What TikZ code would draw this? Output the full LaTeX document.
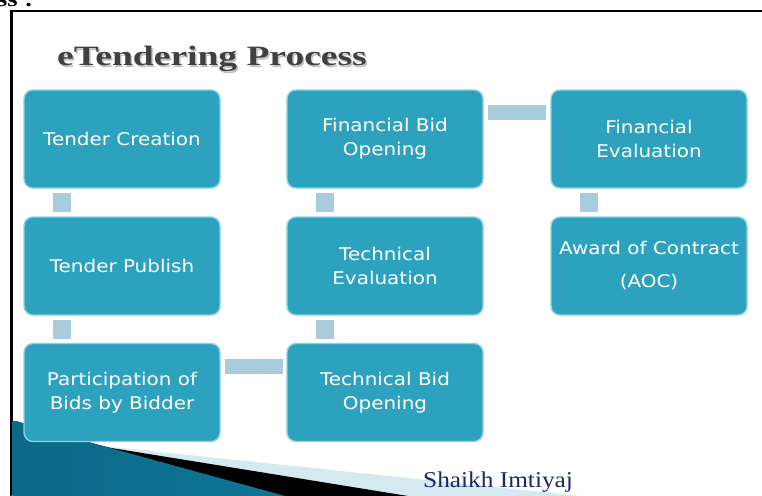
\documentclass[tikz,border=0pt]{standalone}
\usepackage{fontspec}
\newfontfamily\boxfont[FakeStretch=1.14]{DejaVu Sans}
\newfontfamily\titlefont[FakeStretch=1.34]{Liberation Serif}
\newfontfamily\footfont[FakeStretch=1.12]{Liberation Serif}
\newfontfamily\cutfont[FakeStretch=1.2]{Liberation Serif}
\definecolor{boxfill}{HTML}{2DA2BF}
\definecolor{boxedge}{HTML}{8ECFE0}
\definecolor{connfill}{HTML}{A9CCDC}
\definecolor{titlegray}{HTML}{404040}
\definecolor{navy}{HTML}{1B2A66}
\definecolor{tealdark}{HTML}{0A6A87}
\definecolor{teallight}{HTML}{55B6D6}
\definecolor{tealmid}{HTML}{0F7595}
\definecolor{paleblue}{HTML}{D5E9F1}
\tikzset{
  stepbox/.style={rectangle, rounded corners=9pt, fill=boxfill, draw=boxedge,
    line width=1.4pt, minimum width=196pt, minimum height=98pt, inner sep=0pt,
    align=center, text=white, font=\boxfont\fontsize{17.5}{24}\selectfont},
  hconn/.style={draw=connfill, line width=15pt, line cap=butt},
  vconn/.style={draw=connfill, line width=18pt, line cap=butt},
}
\begin{document}
\begin{tikzpicture}[x=1pt,y=-1pt]
\useasboundingbox (0,0) rectangle (762,495);
\fill[white] (0,0) rectangle (762,495);
% cut-off text at the top
\node[anchor=base west, inner sep=0pt, font=\cutfont\bfseries\fontsize{22}{22}\selectfont] (cut) at (-3,7) {ss :};
% frame
\draw[line width=2.5pt] (11.25,500) -- (11.25,11.25) -- (770,11.25);
% bottom-left swoosh
\fill[paleblue] (93,445) -- (580,496) -- (11,496) -- cycle;
\fill[black] (93,445) -- (408,496) -- (250,496) -- cycle;
\fill[left color=tealdark, middle color=teallight, right color=tealmid]
  (12.5,421) .. controls (20,421) and (24,424) .. (30,426) -- (285,496) -- (12.5,496) -- cycle;
% title
\node[anchor=base west, inner sep=0pt, text=black!25, font=\titlefont\bfseries\fontsize{28}{28}\selectfont] (titleshadow) at (58.5,67.5) {eTendering Process};
\node[anchor=base west, inner sep=0pt, text=titlegray, font=\titlefont\bfseries\fontsize{28}{28}\selectfont] (title) at (57,66) {eTendering Process};
% boxes
\node[stepbox] (n1) at (122,139) {Tender Creation};
\node[stepbox] (n2) at (122,266) {Tender Publish};
\node[stepbox] (n3) at (122,392.5) {Participation of\\Bids by Bidder};
\node[stepbox] (n4) at (385,392.5) {Technical Bid\\Opening};
\node[stepbox] (n5) at (385,266) {Technical\\Evaluation};
\node[stepbox] (n6) at (385,139) {Financial Bid\\Opening};
\node[stepbox] (n7) at (649,139) {Financial\\Evaluation};
\node[stepbox] (n8) at (649,266) {Award of Contract\\[9pt](AOC)};
% connectors
\draw[vconn] ([xshift=39pt,yshift=-4pt]n1.south west) -- ([xshift=39pt,yshift=4pt]n2.north west);
\draw[vconn] ([xshift=39pt,yshift=-4pt]n2.south west) -- ([xshift=39pt,yshift=4pt]n3.north west);
\draw[hconn] ([xshift=4pt,yshift=-23.5pt]n3.north east) -- ([xshift=-3pt,yshift=-23.5pt]n4.north west);
\draw[vconn] ([xshift=39pt,yshift=-4pt]n5.south west) -- ([xshift=39pt,yshift=4pt]n4.north west);
\draw[vconn] ([xshift=39pt,yshift=-4pt]n6.south west) -- ([xshift=39pt,yshift=4pt]n5.north west);
\draw[hconn] ([xshift=4pt,yshift=-23.5pt]n6.north east) -- ([xshift=-4pt,yshift=-23.5pt]n7.north west);
\draw[vconn] ([xshift=39pt,yshift=-4pt]n7.south west) -- ([xshift=39pt,yshift=4pt]n8.north west);
% footer
\node[anchor=base west, inner sep=0pt, text=navy, font=\footfont\fontsize{22.6}{22.6}\selectfont] (footer) at (423,487) {Shaikh Imtiyaj};
\end{tikzpicture}
\end{document}
